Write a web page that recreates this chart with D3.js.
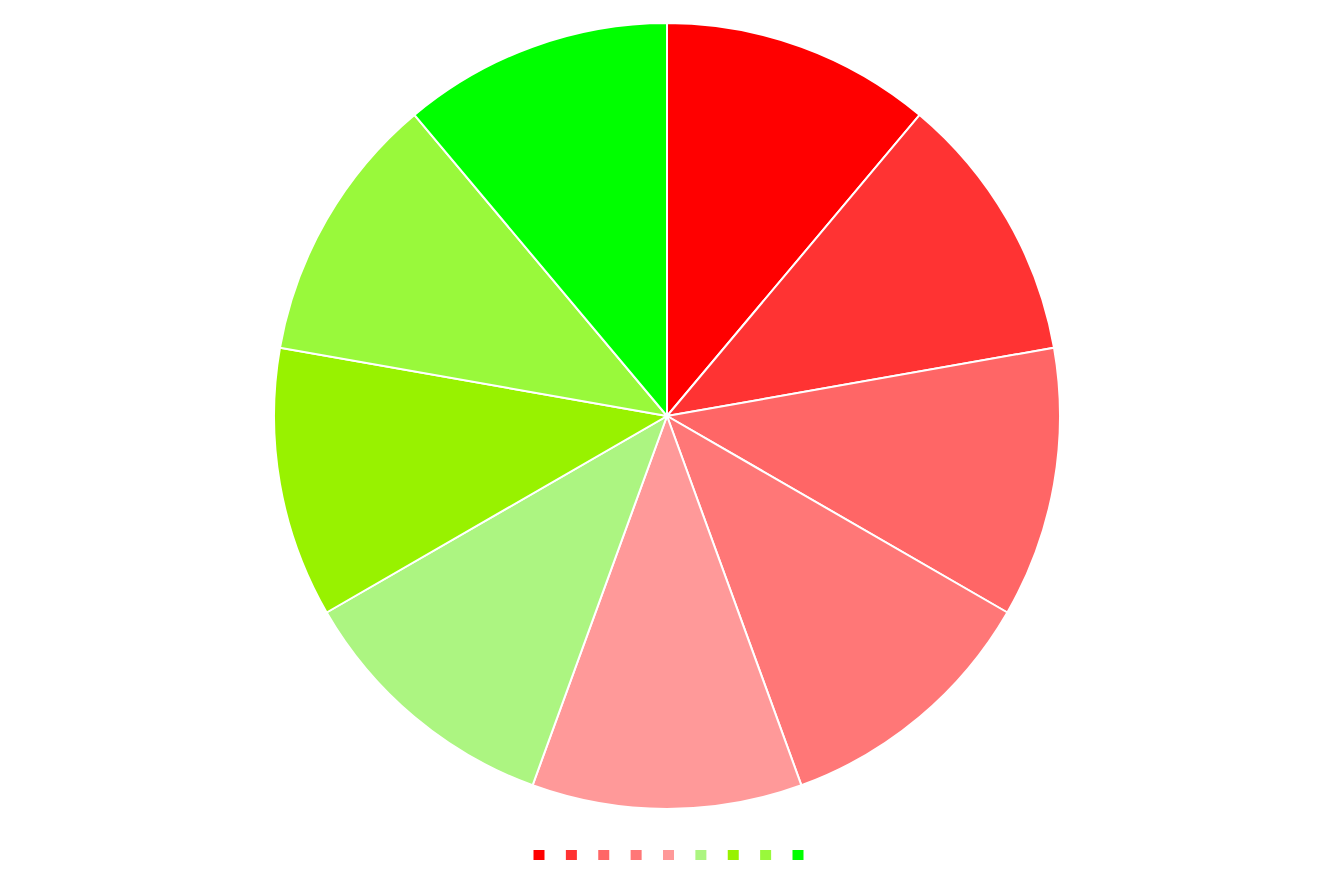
<!DOCTYPE html>
<html><head><meta charset="utf-8">
<script src="https://cdn.jsdelivr.net/npm/d3@7"></script>
<style>body{margin:0;background:#fff;}svg{display:block;}</style>
</head><body>
<svg id="c" width="1334" height="889"></svg>
<script>
const categories = ["", "", "", "", "", "", "", "", ""];
const values = [1, 1, 1, 1, 1, 1, 1, 1, 1];
const colors = ["#ff0000", "#ff3333", "#ff6666", "#ff7777", "#ff9999", "#acf581", "#98f200", "#99f93b", "#00ff00"];

const svg = d3.select("#c");
const W = 1334, H = 889;
const cx = 667, cy = 416, R = 393;
const data = categories.map((c, i) => ({c, v: values[i], col: colors[i]}));
const pie = d3.pie().value(d => d.v).sort(null);
const arc = d3.arc().innerRadius(0).outerRadius(R);
svg.append("g").attr("transform", `translate(${cx},${cy})`)
  .selectAll("path").data(pie(data)).join("path")
  .attr("d", arc).attr("fill", d => d.data.col)
  .attr("stroke", "#fff").attr("stroke-width", 2);

const lx = d3.scalePoint().domain(d3.range(data.length)).range([539, 798]);
svg.append("g").selectAll("rect").data(data).join("rect")
  .attr("x", (d, i) => lx(i) - 5.5).attr("y", 850)
  .attr("width", 11).attr("height", 10).attr("fill", d => d.col);
</script>
</body></html>
